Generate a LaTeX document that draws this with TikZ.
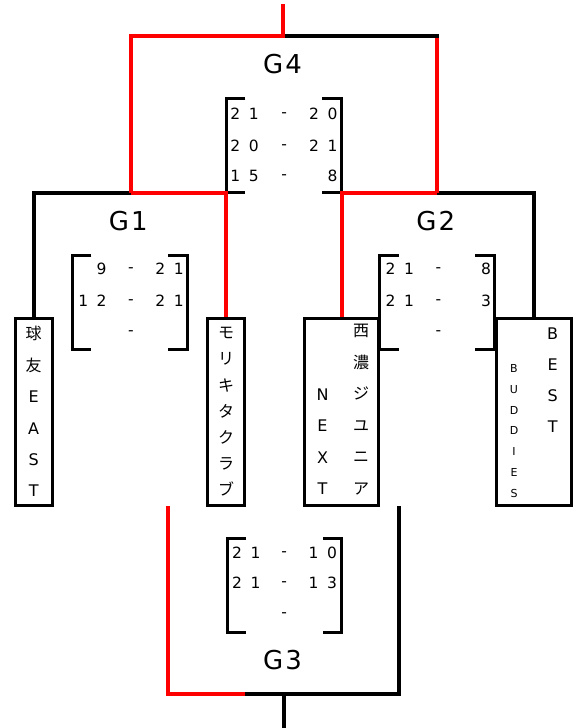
\documentclass[tikz,border=0pt]{standalone}
\usepackage{fontspec}
\setmainfont{DejaVu Sans}
\newfontfamily\jpfont{Noto Sans CJK JP}
\definecolor{winred}{RGB}{255,0,0}
\newcommand{\dgap}{\hspace{8.6pt}}

\begin{document}
\begin{tikzpicture}[x=1pt, y=-1pt,
    lose/.style={line width=4pt},
    win/.style={line width=4pt, draw=winred},
    team/.style={draw, line width=3pt, minimum width=#1, minimum height=187pt, inner sep=0pt, align=center},
    tname/.style={align=center, inner sep=0pt},
    game/.style={font=\fontsize{26}{30}\selectfont, inner sep=0pt},
    score/.style={font=\fontsize{15.5}{18}\selectfont, inner sep=0pt, text height=11.3pt, text depth=0pt},
    sbox/.style={minimum width=114.5pt, minimum height=94pt, inner sep=0pt},
    brk/.style={line width=3pt}]
    \useasboundingbox (0,0) rectangle (576,728);

    \node[team=37pt, font=\fontsize{16}{31.4}\selectfont] (t1) at (33.7,411.7) {{\jpfont 球}\\{\jpfont 友}\\E\\A\\S\\T};
    \node[team=37pt, font=\jpfont\fontsize{16}{26.1}\selectfont] (t2) at (226,411.7) {モ\\リ\\キ\\タ\\ク\\ラ\\ブ};
    \node[team=74.5pt] (t3) at (341.7,411.7) {};
    \node[team=74.5pt] (t4) at (533.8,411.7) {};
    \node[tname, font=\jpfont\fontsize{16}{31.6}\selectfont] (t3a) at (361,409.5) {西\\濃\\ジ\\ユ\\ニ\\ア};
    \node[tname, font=\fontsize{16}{31.1}\selectfont] (t3b) at (322.5,441.7) {N\\E\\X\\T};
    \node[tname, font=\fontsize{16}{31.2}\selectfont] (t4a) at (552.7,380) {B\\E\\S\\T};
    \node[tname, font=\fontsize{11}{20.9}\selectfont] (t4b) at (514,431) {B\\U\\D\\D\\I\\E\\S};

    \node[game] (l4) at (282.5,64.5) {G\hspace{2pt}4};
    \node[game] (l1) at (128.3,220.8) {G\hspace{2pt}1};
    \node[game] (l2) at (435.8,220.8) {G\hspace{2pt}2};
    \node[game] (l3) at (282.5,660.5) {G\hspace{2pt}3};

    \node[sbox] (s4) at (283.8,145.5) {};
    \node[sbox] (s1) at (129.8,302.5) {};
    \node[sbox] (s2) at (437,302.5) {};
    \node[sbox] (s3) at (284.5,585.2) {};
    \foreach \s in {s1,s2,s3,s4}
        \draw[brk] ([xshift=19pt]\s.north west) -- (\s.north west) -- (\s.south west) -- ([xshift=19pt]\s.south west)
                   ([xshift=-19pt]\s.north east) -- (\s.north east) -- (\s.south east) -- ([xshift=-19pt]\s.south east);

    \foreach \l/\r/\y [count=\i] in {2\dgap1/2\dgap0/114.2, 2\dgap0/2\dgap1/145.8, 1\dgap5/8/175.8} {
        \node[score, anchor=east] (s4l\i) at (258.9,\y) {\l};
        \node[score] (s4d\i) at (284.2,\y-2) {-};
        \node[score, anchor=east] (s4r\i) at (337.7,\y) {\r};
    }
    \foreach \l/\r/\y [count=\i] in {9/2\dgap1/269.2, 1\dgap2/2\dgap1/300.8} {
        \node[score, anchor=east] (s1l\i) at (106.8,\y) {\l};
        \node[score] (s1d\i) at (130.8,\y-2) {-};
        \node[score, anchor=east] (s1r\i) at (183.9,\y) {\r};
    }
    \node[score] (s1d3) at (130.8,330.2) {-};
    \foreach \l/\r/\y [count=\i] in {2\dgap1/8/269.2, 2\dgap1/3/300.8} {
        \node[score, anchor=east] (s2l\i) at (414.1,\y) {\l};
        \node[score] (s2d\i) at (438.3,\y-2) {-};
        \node[score, anchor=east] (s2r\i) at (491.1,\y) {\r};
    }
    \node[score] (s2d3) at (438.3,330.2) {-};
    \foreach \l/\r/\y [count=\i] in {2\dgap1/1\dgap0/552.5, 2\dgap1/1\dgap3/583} {
        \node[score, anchor=east] (s3l\i) at (260.7,\y) {\l};
        \node[score] (s3d\i) at (284.2,\y-2) {-};
        \node[score, anchor=east] (s3r\i) at (337.1,\y) {\r};
    }
    \node[score] (s3d3) at (284.2,611.8) {-};

    \coordinate (g1) at (130.5,192.5);
    \coordinate (g2) at (437,192.5);
    \coordinate (g4) at (283.3,36.2);
    \coordinate (top) at (283.3,4);
    \coordinate (g3l) at (168.3,506);
    \coordinate (g3r) at (399.2,506);
    \coordinate (g3m) at (245,694);
    \coordinate (g3) at (283.5,694);
    \coordinate (bot) at (283.5,728);

    \draw[lose] (t1.north) |- (g1);
    \draw[win] (t2.north) |- (g1);
    \draw[lose] (t4.north) |- (g2);
    \draw[win] (t3.north) |- (g2);
    \draw[win] (g2) -- (g2 |- g4);
    \draw[lose, line cap=rect] (g2 |- g4) -- (g4);
    \draw[win] (g1) |- (g4) -- (top);
    \draw[lose] (g3r) |- (g3m);
    \draw[win] (g3l) |- (g3m);
    \draw[lose] (g3) -- (bot);
\end{tikzpicture}
\end{document}
